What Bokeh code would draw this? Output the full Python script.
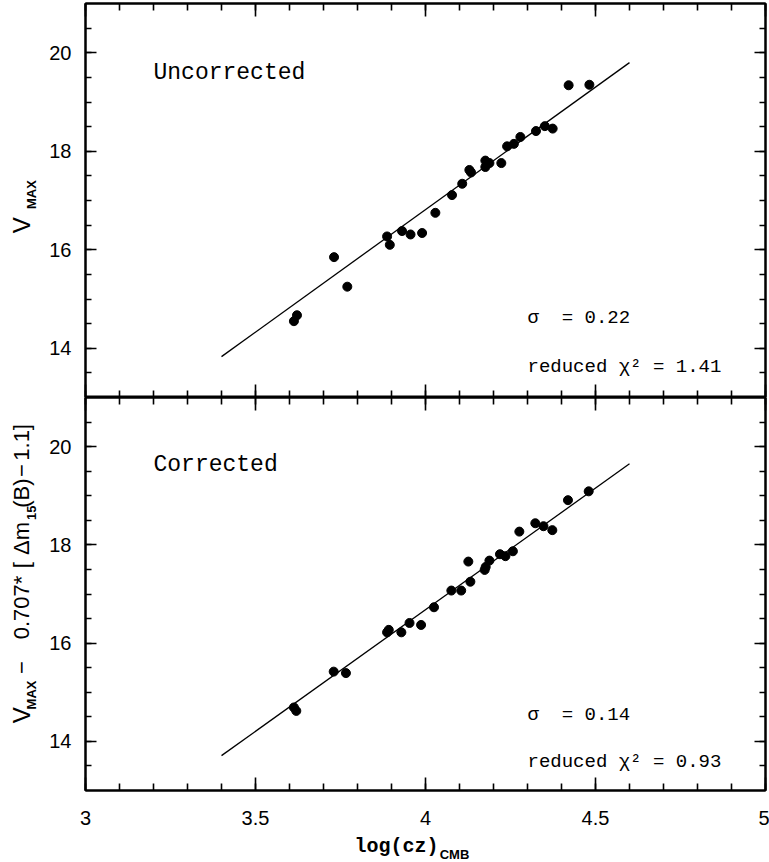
from bokeh.plotting import figure
from bokeh.models import Range1d, FixedTicker, LinearAxis, Label
from bokeh.layouts import column, row
from bokeh.embed import file_html
from bokeh.resources import INLINE

# ---------------- data ----------------
logcz_uncorr = [3.613, 3.622, 3.731, 3.770, 3.887, 3.895, 3.931, 3.956, 3.990, 4.029,
                4.078, 4.108, 4.129, 4.134, 4.176, 4.176, 4.188, 4.223, 4.240, 4.260,
                4.279, 4.325, 4.351, 4.374, 4.421, 4.482]
vmax_uncorr = [14.55, 14.67, 15.85, 15.25, 16.27, 16.10, 16.38, 16.31, 16.34, 16.75,
               17.11, 17.34, 17.62, 17.57, 17.81, 17.68, 17.76, 17.76, 18.10, 18.15,
               18.29, 18.41, 18.51, 18.46, 19.34, 19.35]

logcz_corr = [3.613, 3.620, 3.730, 3.766, 3.887, 3.892, 3.929, 3.953, 3.987, 4.025,
              4.076, 4.105, 4.126, 4.132, 4.174, 4.177, 4.188, 4.219, 4.235, 4.257,
              4.276, 4.323, 4.347, 4.373, 4.419, 4.480]
vmax_corr = [14.69, 14.62, 15.42, 15.39, 16.22, 16.27, 16.22, 16.41, 16.37, 16.73,
             17.07, 17.07, 17.66, 17.25, 17.49, 17.55, 17.68, 17.81, 17.77, 17.87,
             18.27, 18.44, 18.38, 18.30, 18.91, 19.09]

fit_x = [3.4, 4.6]
fit_uncorr = [13.83, 19.80]
fit_corr = [13.71, 19.65]

x_tick_values = [3, 3.5, 4, 4.5, 5]
x_tick_labels = ["3", "3.5", "4", "4.5", "5"]
x_minor_values = [3.0, 3.1, 3.2, 3.3, 3.4, 3.5, 3.6, 3.7, 3.8, 3.9, 4.0,
                  4.1, 4.2, 4.3, 4.4, 4.5, 4.6, 4.7, 4.8, 4.9, 5.0]
y_tick_values = [14, 16, 18, 20]
y_minor_values = [13.5, 14, 14.5, 15, 15.5, 16, 16.5, 17, 17.5, 18, 18.5,
                  19, 19.5, 20, 20.5]

panel_texts_top = ["Uncorrected", "\u03c3\u00a0 = 0.22", "reduced \u03c7\u00b2 = 1.41"]
panel_texts_bot = ["Corrected", "\u03c3\u00a0 = 0.14", "reduced \u03c7\u00b2 = 0.93"]

X_RANGE = (3, 5)
Y_RANGE = (13, 21)

SANS = "Liberation Sans"
MONO = "Liberation Mono"

LAB_W = 45          # width of the strip that holds the rotated y labels
MAIN_W = 769 - LAB_W


def style_axis(ax, show_labels, is_x):
    ax.axis_line_color = "black"
    ax.axis_line_width = 2
    ax.major_tick_line_color = "black"
    ax.minor_tick_line_color = "black"
    ax.major_tick_line_width = 1.6
    ax.minor_tick_line_width = 1.6
    ax.major_tick_out = 0
    ax.minor_tick_out = 0
    if is_x:
        ax.major_tick_in = 13
        ax.minor_tick_in = 7
        ax.ticker = FixedTicker(ticks=x_tick_values, minor_ticks=x_minor_values)
    else:
        ax.major_tick_in = 11
        ax.minor_tick_in = 6
        ax.ticker = FixedTicker(ticks=y_tick_values, minor_ticks=y_minor_values)
    if show_labels:
        ax.major_label_text_font = SANS
        ax.major_label_text_font_size = "20px"
        ax.major_label_text_color = "black"
        ax.major_label_standoff = 20 if is_x else 14
        if is_x:
            ax.major_label_overrides = dict(zip(x_tick_values, x_tick_labels))
    else:
        ax.major_label_text_font_size = "0px"
        ax.major_label_standoff = 0
        ax.major_label_text_alpha = 0


def make_panel(xs, ys, fit_y, texts, height, border_top, border_bottom,
               show_x_labels, text_y):
    p = figure(width=MAIN_W, height=height, output_backend="svg",
               toolbar_location=None,
               x_range=Range1d(*X_RANGE), y_range=Range1d(*Y_RANGE),
               min_border_left=85 - LAB_W, min_border_right=4,
               min_border_top=border_top, min_border_bottom=border_bottom)
    p.background_fill_color = "white"
    p.border_fill_color = "white"
    p.outline_line_color = "black"
    p.outline_line_width = 2
    p.xgrid.visible = False
    p.ygrid.visible = False

    style_axis(p.xaxis[0], show_x_labels, True)
    style_axis(p.yaxis[0], True, False)
    ax_r = LinearAxis()
    style_axis(ax_r, False, False)
    p.add_layout(ax_r, "right")
    ax_t = LinearAxis()
    style_axis(ax_t, False, True)
    p.add_layout(ax_t, "above")

    p.line(fit_x, fit_y, line_color="black", line_width=1.3)
    p.scatter(xs, ys, size=9, fill_color="black", line_color="black")

    p.add_layout(Label(x=3.2, y=text_y[0], text=texts[0],
                       text_font=MONO, text_font_size="23px",
                       text_color="black", text_baseline="alphabetic"))
    p.add_layout(Label(x=4.30, y=text_y[1], text=texts[1],
                       text_font=MONO, text_font_size="19px",
                       text_color="black", text_baseline="alphabetic"))
    p.add_layout(Label(x=4.30, y=text_y[2], text=texts[2],
                       text_font=MONO, text_font_size="19px",
                       text_color="black", text_baseline="alphabetic"))
    return p


def text_strip(width, height):
    """A blank figure whose data coordinates are its own pixels (y up)."""
    s = figure(width=width, height=height, output_backend="svg",
               toolbar_location=None, x_range=Range1d(0, width),
               y_range=Range1d(0, height), x_axis_type=None, y_axis_type=None,
               min_border=0)
    s.outline_line_color = None
    s.background_fill_color = "white"
    s.border_fill_color = "white"
    s.xgrid.visible = False
    s.ygrid.visible = False
    return s


def seg(p, text, x, y, size, bold=False, font=SANS, angle=0.0):
    # anchored at the centre of the text, so rotation cannot shift it
    p.add_layout(Label(x=x, y=y, text=text, text_font=font,
                       text_font_size=size,
                       text_font_style="bold" if bold else "normal",
                       text_color="black", text_align="center",
                       text_baseline="middle", angle=angle))


TOP_H = 397
BOT_H = 438          # page y 397 .. 835
XLAB_H = 862 - TOP_H - BOT_H

top = make_panel(logcz_uncorr, vmax_uncorr, fit_uncorr, panel_texts_top,
                 TOP_H, 3, 0, False, (19.58, 14.62, 13.62))
bot = make_panel(logcz_corr, vmax_corr, fit_corr, panel_texts_bot,
                 BOT_H, 0, BOT_H - 393, True, (19.63, 14.54, 13.59))

ROT = 1.5707963267948966

# top y label: V_MAX   (strip spans page y 0..397); centres in page pixels
ylab_top = text_strip(LAB_W, TOP_H)
top_segments = [
    ("V", 223.5, "24px", False, 20.5),
    ("MAX", 192.5, "13px", True, 31.0),
]
for t, py, fs, b, px in top_segments:
    seg(ylab_top, t, px, TOP_H - py, fs, bold=b, angle=ROT)

# bottom y label   (strip spans page y 397..835)
ylab_bot = text_strip(LAB_W, BOT_H)
bot_segments = [
    ("V", 751, "24px", False, 20.5),
    ("MAX", 728.5, "13px", True, 31.0),
    ("\u2212", 698, "22px", False, 21),
    ("0.707*", 631, "22px", False, 21),
    ("[", 584, "22px", False, 21),
    ("\u0394m", 554, "22px", False, 21),
    ("15", 525.5, "13px", True, 31.0),
    ("(B)", 503.5, "22px", False, 21),
    ("\u2212", 478.5, "22px", False, 21),
    ("1.1]", 447, "22px", False, 21),
]
for t, py, fs, b, px in bot_segments:
    seg(ylab_bot, t, px, (TOP_H + BOT_H) - py, fs, bold=b, angle=ROT)

# x axis label: log(cz)_CMB   (strip spans page y 835..862)
xlab = text_strip(769, XLAB_H)
seg(xlab, "log(cz)", 396, 862 - 845.5, "20px", bold=True, font=MONO)
seg(xlab, "CMB", 454, 862 - 853.5, "13px", bold=True)

layout = column(row(ylab_top, top, spacing=0),
                row(ylab_bot, bot, spacing=0),
                xlab, spacing=0)
open("out.html", "w").write(file_html(layout, INLINE))
